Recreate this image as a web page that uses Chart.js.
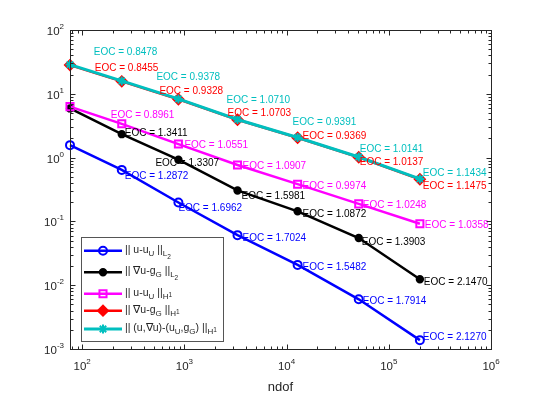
<!DOCTYPE html>
<html><head><meta charset="utf-8">
<script src="https://cdn.jsdelivr.net/npm/chart.js@4/dist/chart.umd.min.js"></script>
<style>html,body{margin:0;padding:0;background:#fff;overflow:hidden;}</style>
</head><body>
<canvas id="c" width="544" height="394"></canvas>
<script>
// ---- data ----
const ndof = [76, 244, 874, 3310, 12820, 50800, 201400];
const errL2u     = [1.567, 0.642, 0.1981, 0.06087, 0.02081, 0.006013, 0.001377];
const errL2grad  = [5.9, 2.329, 0.926, 0.3058, 0.1439, 0.0549, 0.0124];
const errH1u     = [6.3, 3.385, 1.629, 0.765, 0.3832, 0.1883, 0.0919];
const errH1grad  = [28.2, 15.69, 8.22, 3.915, 2.045, 1.013, 0.4573];
const errH1total = [28.7, 15.94, 8.32, 3.96, 2.07, 1.023, 0.463];
const eocL2u     = ['1.2872','1.6962','1.7024','1.5482','1.7914','2.1270'];
const eocL2grad  = ['1.3411','1.3307','1.5981','1.0872','1.3903','2.1470'];
const eocH1u     = ['0.8961','1.0551','1.0907','0.9974','1.0248','1.0358'];
const eocH1grad  = ['0.8455','0.9328','1.0703','0.9369','1.0137','1.1475'];
const eocH1total = ['0.8478','0.9378','1.0710','0.9391','1.0141','1.1434'];
const xTickExps = [2, 3, 4, 5, 6];
const yTickExps = [-3, -2, -1, 0, 1, 2];
const xTitle = 'ndof';
// legend labels as rich-text parts: [text, level] (0 normal, 1 sub, 2 sub-sub, 3 sup on sub)
const legendLabels = [
  [['|| u-u',0],['U',1],[' ||',0],['L',1],['2',2]],
  [['|| \u2207u-g',0],['G',1],[' ||',0],['L',1],['2',2]],
  [['|| u-u',0],['U',1],[' ||',0],['H',1],['1',3]],
  [['|| \u2207u-g',0],['G',1],[' ||',0],['H',1],['1',3]],
  [['|| (u,\u2207u)-(u',0],['U',1],[',g',0],['G',1],[') ||',0],['H',1],['1',3]]
];

// ---- styling ----
const FONT = "'Liberation Sans', Arial, Helvetica, sans-serif";
const colors = ['#0000ff', '#000000', '#ff00ff', '#ff0000', '#00bfbf'];
const series = [errL2u, errL2grad, errH1u, errH1grad, errH1total];
const eocs = [eocL2u, eocL2grad, eocH1u, eocH1grad, eocH1total];
const pStyle = [
  {style:'circle', r:4, fill:false},
  {style:'circle', r:3.2, fill:true},
  {style:'rect', r:5, fill:false},
  {style:'rectRot', r:5, fill:true},
  {style:'star', r:4.5, fill:false}
];
// label offsets (px) from the point each EOC belongs to
const labelOff = [
  [[3,6],[0,5],[5,2],[5,2],[4,1],[3,-4]],
  [[3,-2],[-23,3],[4,5],[5,2],[3,3],[4,2]],
  [[-11,-9],[6,0],[5,0],[5,1],[4,1],[5,1]],
  [[-27,-14],[-19,-9],[-10,-7],[5,-2],[1,4],[3,6]],
  [[-28,-29],[-22,-22],[-11,-20],[-5,-16],[1,-9],[3,-7]]
];

const datasets = series.map((s, i) => ({
  label: 'series' + i,
  data: ndof.map((x, k) => ({x: x, y: s[k]})),
  borderColor: colors[i],
  backgroundColor: colors[i],
  borderWidth: i === 4 ? 3 : 2.5,
  pointStyle: pStyle[i].style,
  pointRadius: pStyle[i].r,
  pointBorderWidth: 2,
  pointBorderColor: colors[i],
  pointBackgroundColor: pStyle[i].fill ? colors[i] : 'rgba(0,0,0,0)',
  order: 5 - i,
  clip: false,
  tension: 0,
  fill: false
}));

function drawPow(ctx, exp, x, baseY, align) {
  const bf = '11.5px ' + FONT, sf = '8px ' + FONT;
  ctx.font = bf; const w1 = ctx.measureText('10').width;
  const es = exp < 0 ? '-' + (-exp) : String(exp);
  ctx.font = sf; const w2 = ctx.measureText(es).width;
  const tot = w1 + w2;
  let sx = align === 'center' ? x - tot / 2 : x - tot;
  ctx.textAlign = 'left'; ctx.textBaseline = 'alphabetic';
  ctx.font = bf; ctx.fillText('10', sx, baseY);
  ctx.font = sf; ctx.fillText(es, sx + w1, baseY - 6);
}

const axesPlugin = {
  id: 'matlabAxes',
  afterDatasetsDraw(chart) {
    const ctx = chart.ctx;
    ctx.save();
    ctx.font = '10px ' + FONT;
    ctx.textAlign = 'left'; ctx.textBaseline = 'alphabetic';
    series.forEach((s, i) => {
      const meta = chart.getDatasetMeta(i);
      ctx.fillStyle = colors[i];
      eocs[i].forEach((v, k) => {
        const p = meta.data[k + 1];
        ctx.fillText('EOC = ' + v, p.x + labelOff[i][k][0], p.y + labelOff[i][k][1] + 3.6);
      });
    });
    ctx.restore();
  },
  afterDraw(chart) {
    const ctx = chart.ctx, a = chart.chartArea, xs = chart.scales.x, ys = chart.scales.y;
    const L = a.left + 0.5, R = a.right + 0.5, T = a.top + 0.5, B = a.bottom + 0.5;
    ctx.save();
    ctx.strokeStyle = '#262626'; ctx.lineWidth = 1;
    ctx.strokeRect(L, T, R - L, B - T);
    ctx.beginPath();
    for (let e = 1; e <= 6; e++) {
      for (let m = 1; m <= 9; m++) {
        const v = m * Math.pow(10, e);
        if (v < xs.min - 1e-9 || v > xs.max * 1.0001) continue;
        const px = Math.round(xs.getPixelForValue(v)) + 0.5;
        const len = m === 1 ? 5 : 3;
        ctx.moveTo(px, B); ctx.lineTo(px, B - len);
        ctx.moveTo(px, T); ctx.lineTo(px, T + len);
      }
    }
    for (let e = -3; e <= 2; e++) {
      for (let m = 1; m <= 9; m++) {
        const v = m * Math.pow(10, e);
        if (v < ys.min * 0.9999 || v > ys.max * 1.0001) continue;
        const py = Math.round(ys.getPixelForValue(v)) + 0.5;
        const len = m === 1 ? 5 : 3;
        ctx.moveTo(L, py); ctx.lineTo(L + len, py);
        ctx.moveTo(R, py); ctx.lineTo(R - len, py);
      }
    }
    ctx.stroke();
    ctx.fillStyle = '#262626';
    xTickExps.forEach(e => drawPow(ctx, e, xs.getPixelForValue(Math.pow(10, e)), 370, 'center'));
    yTickExps.forEach(e => drawPow(ctx, e, a.left - 6, ys.getPixelForValue(Math.pow(10, e)) + 5, 'right'));
    ctx.font = '13px ' + FONT; ctx.textAlign = 'center';
    ctx.fillText(xTitle, (a.left + a.right) / 2, 391);

    // legend
    const bx = 81.5, by = 237.5, bw = 142, bh = 104;
    ctx.fillStyle = '#ffffff'; ctx.fillRect(bx, by, bw, bh);
    ctx.strokeStyle = '#555555'; ctx.lineWidth = 1; ctx.strokeRect(bx, by, bw, bh);
    const rows = [250.7, 272.3, 293.7, 310.7, 329];
    const lvl = {0:[10.5,0], 1:[8,3], 2:[6.5,6], 3:[6.5,1]};
    legendLabels.forEach((parts, i) => {
      const y = rows[i];
      ctx.save();
      ctx.strokeStyle = colors[i]; ctx.lineWidth = i === 4 ? 3 : 2.5;
      ctx.beginPath(); ctx.moveTo(84, y); ctx.lineTo(122, y); ctx.stroke();
      ctx.fillStyle = pStyle[i].fill ? colors[i] : 'rgba(0,0,0,0)';
      ctx.lineWidth = 2;
      Chart.helpers.drawPoint(ctx, {pointStyle: pStyle[i].style, radius: pStyle[i].r, rotation: 0, borderWidth: 2}, 103, y);
      ctx.restore();
      let tx = 125; const base = y + 2;
      ctx.fillStyle = '#262626'; ctx.textAlign = 'left';
      parts.forEach(([t, l]) => {
        ctx.font = lvl[l][0] + 'px ' + FONT;
        ctx.fillText(t, tx, base + lvl[l][1]);
        tx += ctx.measureText(t).width;
      });
    });
    ctx.restore();
  }
};

new Chart(document.getElementById('c'), {
  type: 'line',
  data: { datasets },
  options: {
    responsive: false, animation: false, devicePixelRatio: 1,
    layout: { padding: { left: 70, top: 30, right: 53, bottom: 45 } },
    plugins: { legend: { display: false }, tooltip: { enabled: false } },
    scales: {
      x: { type: 'logarithmic', min: ndof[0], max: 1e6, display: false },
      y: { type: 'logarithmic', min: 1e-3, max: 1e2, display: false }
    }
  },
  plugins: [axesPlugin]
});
</script>
</body></html>
